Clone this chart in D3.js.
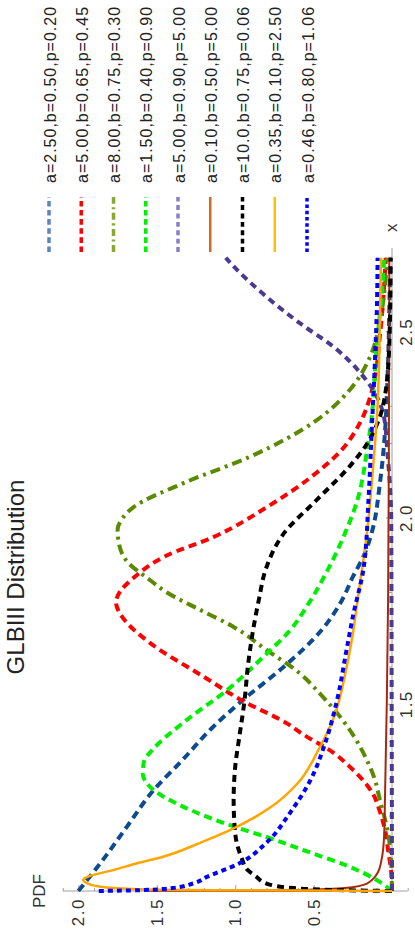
<!DOCTYPE html>
<html>
<head>
<meta charset="utf-8">
<script src="https://cdn.jsdelivr.net/npm/d3@7"></script>
<style>
  body { margin: 0; background: #fff; }
  svg { display: block; }
  text { font-family: "Liberation Sans", Arial, sans-serif; }
</style>
</head>
<body>
<svg id="chart" width="415" height="934"></svg>
<script>
// GLBIII density curves, sampled as [x, pdf] pairs
const curveA250 = [[1.0,2.0],[1.08,1.85],[1.173,1.69],[1.271,1.52],[1.35,1.34],[1.441,1.14],[1.513,0.95],[1.602,0.69],[1.70,0.45],[1.78,0.32],[1.843,0.25],[1.90,0.18],[1.961,0.13],[2.095,0.077],[2.23,0.045],[2.36,0.03],[2.5,0.02],[2.7,0.012]];
const curveA500a = [[1.0,0.0],[1.05,0.005],[1.11,0.025],[1.155,0.04],[1.217,0.08],[1.26,0.12],[1.29,0.17],[1.33,0.26],[1.37,0.37],[1.424,0.58],[1.45,0.67],[1.51,0.95],[1.575,1.2],[1.665,1.54],[1.73,1.71],[1.775,1.76],[1.80,1.74],[1.84,1.65],[1.90,1.44],[1.95,1.14],[2.03,0.80],[2.11,0.52],[2.18,0.33],[2.26,0.20],[2.34,0.13],[2.50,0.075],[2.7,0.04]];
const curveA800 = [[1.0,0.0],[1.08,0.005],[1.155,0.025],[1.244,0.077],[1.30,0.11],[1.36,0.17],[1.42,0.25],[1.467,0.33],[1.53,0.46],[1.585,0.59],[1.647,0.80],[1.709,1.01],[1.754,1.22],[1.80,1.43],[1.84,1.56],[1.88,1.68],[1.93,1.74],[1.97,1.75],[2.0,1.72],[2.03,1.65],[2.095,1.33],[2.165,0.91],[2.264,0.48],[2.345,0.27],[2.434,0.14],[2.52,0.08],[2.587,0.055],[2.7,0.03]];
const curveA150 = [[1.0,0.0],[1.01,0.03],[1.03,0.1],[1.048,0.18],[1.07,0.3],[1.10,0.5],[1.145,0.80],[1.172,1.0],[1.226,1.33],[1.271,1.52],[1.316,1.59],[1.35,1.58],[1.378,1.53],[1.459,1.31],[1.54,1.05],[1.629,0.82],[1.70,0.65],[1.773,0.53],[1.87,0.40],[1.96,0.30],[2.05,0.22],[2.18,0.16],[2.27,0.13],[2.45,0.10],[2.63,0.06],[2.7,0.05]];
const curveA500b = [[1.0,0.0],[1.5,0.002],[2.0,0.005],[2.1,0.015],[2.18,0.03],[2.27,0.05],[2.33,0.10],[2.39,0.20],[2.46,0.37],[2.525,0.59],[2.595,0.80],[2.686,1.03],[2.7,1.06]];
const curveA010 = [[1.0,0.0],[1.0008,1.55],[1.003,0.6],[1.008,0.3],[1.02,0.16],[1.05,0.09],[1.083,0.067],[1.15,0.05],[1.244,0.045],[1.51,0.033],[1.78,0.025],[2.2,0.02],[2.7,0.017]];
const curveA1000 = [[1.0,0.0],[1.002,0.3],[1.005,0.52],[1.008,0.63],[1.02,0.80],[1.04,0.87],[1.056,0.92],[1.09,0.96],[1.155,1.0],[1.244,1.01],[1.333,1.0],[1.424,0.97],[1.513,0.94],[1.60,0.92],[1.69,0.89],[1.78,0.85],[1.87,0.80],[1.96,0.69],[2.05,0.48],[2.14,0.27],[2.20,0.16],[2.27,0.08],[2.36,0.035],[2.5,0.015],[2.7,0.008]];
const curveA035 = [[1.0,0.0],[1.002,1.0],[1.005,1.62],[1.011,1.85],[1.02,1.94],[1.03,1.97],[1.04,1.93],[1.056,1.78],[1.075,1.62],[1.092,1.46],[1.13,1.22],[1.164,1.03],[1.226,0.77],[1.29,0.60],[1.378,0.47],[1.467,0.37],[1.60,0.29],[1.69,0.25],[1.78,0.22],[1.96,0.16],[2.14,0.12],[2.32,0.09],[2.59,0.075],[2.7,0.07]];
const curveA046 = [[1.0,1.87],[1.002,1.62],[1.008,1.40],[1.02,1.27],[1.038,1.18],[1.075,0.97],[1.13,0.80],[1.21,0.65],[1.298,0.52],[1.405,0.42],[1.513,0.35],[1.647,0.29],[1.736,0.25],[1.87,0.18],[2.05,0.15],[2.23,0.13],[2.41,0.11],[2.59,0.095],[2.7,0.092]];

const seriesData = [curveA250, curveA500a, curveA800, curveA150, curveA500b, curveA010, curveA1000, curveA035, curveA046];
const seriesLabels = ["a=2.50,b=0.50,p=0.20","a=5.00,b=0.65,p=0.45","a=8.00,b=0.75,p=0.30","a=1.50,b=0.40,p=0.90","a=5.00,b=0.90,p=5.00","a=0.10,b=0.50,p=5.00","a=10.0,b=0.75,p=0.06","a=0.35,b=0.10,p=2.50","a=0.46,b=0.80,p=1.06"];
const lineColors = ["#0d4a8f","#ff0000","#5a8a00","#00ee00","#4b3a8f","#a52a0a","#000000","#ffa500","#0000ff"];
const keyColors = ["#5b84c4","#ff0000","#8ba832","#00ee00","#8c7cc8","#d2691e","#000000","#ffc000","#0000ff"];
const dashPatterns = ["8,5","8,5","10,5,3,5","8,5","7,5",null,"7,5",null,"5,4"];
const lineWidths = [4,4,4,4,4,2,4,2.5,4];

const xMajor = [1.5, 2.0, 2.5];
const xMinor = [1.1,1.2,1.3,1.4,1.6,1.7,1.8,1.9,2.1,2.2,2.3,2.4,2.6,2.7];
const yMajor = [0.5, 1.0, 1.5, 2.0];
const yMinor = [-0.1,0.1,0.2,0.3,0.4,0.6,0.7,0.8,0.9,1.1,1.2,1.3,1.4,1.6,1.7,1.8,1.9,2.1];

const svg = d3.select("#chart");
// the whole plot is laid out landscape and turned a quarter turn
const g = svg.append("g").attr("transform", "translate(0,934) rotate(-90)");

const x = d3.scaleLinear().domain([1, 2.7]).range([43, 43 + 1.7 * 372.5]);
const y = d3.scaleLinear().domain([0, 2]).range([392, 78.4]);

const axisColor = "#a0a0a0";
const labelColor = "#333";

// axis lines
g.append("line").attr("x1", x(1)).attr("x2", 686).attr("y1", y(0)).attr("y2", y(0))
  .attr("stroke", axisColor).attr("stroke-width", 1);
g.append("line").attr("x1", x(1)).attr("x2", x(1)).attr("y1", y(-0.1)).attr("y2", y(2.1))
  .attr("stroke", axisColor).attr("stroke-width", 1);

function styleAxis(sel) {
  sel.select(".domain").remove();
  sel.selectAll(".tick line").attr("stroke", axisColor);
  sel.selectAll(".tick text").attr("fill", labelColor).style("font-size", "17px")
    .style("letter-spacing", "1.5px").style("font-family", "'Liberation Sans', Arial, sans-serif");
}

g.append("g").attr("transform", `translate(0,${y(0)})`)
  .call(d3.axisBottom(x).tickValues(xMajor).tickSizeInner(-6).tickSizeOuter(0).tickPadding(8).tickFormat(d3.format(".1f")))
  .call(styleAxis);
g.append("g").attr("transform", `translate(0,${y(0)})`)
  .call(d3.axisBottom(x).tickValues(xMinor).tickSizeInner(-3).tickSizeOuter(0).tickFormat(""))
  .call(styleAxis);
g.append("g").attr("transform", `translate(${x(1)},0)`)
  .call(d3.axisLeft(y).tickValues(yMajor).tickSizeInner(-6).tickSizeOuter(0).tickPadding(7).tickFormat(d3.format(".1f")))
  .call(styleAxis);
g.append("g").attr("transform", `translate(${x(1)},0)`)
  .call(d3.axisLeft(y).tickValues(yMinor).tickSizeInner(-3).tickSizeOuter(0).tickFormat(""))
  .call(styleAxis);

// axis titles
g.append("text").attr("x", x(1)).attr("y", 45).attr("text-anchor", "middle")
  .attr("fill", labelColor).style("font-size", "17px").text("PDF");
g.append("text").attr("x", 702).attr("y", 397)
  .attr("fill", labelColor).style("font-size", "17px").text("x");

// chart title
g.append("text").attr("x", 357).attr("y", 24).attr("text-anchor", "middle")
  .attr("fill", "#222").style("font-size", "24px").text("GLBIII Distribution");

// curves
const line = d3.line().x(d => x(d[0])).y(d => y(d[1])).curve(d3.curveMonotoneX);
g.append("g").selectAll("path").data(seriesData).join("path")
  .attr("d", line)
  .attr("fill", "none")
  .attr("stroke", (d, i) => lineColors[i])
  .attr("stroke-width", (d, i) => lineWidths[i])
  .attr("stroke-dasharray", (d, i) => dashPatterns[i])
  .attr("stroke-linejoin", "round");

// legend
const legendRow = d3.scaleLinear().domain([0, 8]).range([49, 307]);
const legend = g.append("g").selectAll("g").data(seriesLabels).join("g")
  .attr("transform", (d, i) => `translate(0,${legendRow(i)})`);
legend.append("line").attr("x1", 682).attr("x2", 737).attr("y1", 0).attr("y2", 0)
  .attr("stroke", (d, i) => keyColors[i])
  .attr("stroke-width", (d, i) => lineWidths[i] === 4 ? 3.5 : 2.5)
  .attr("stroke-dasharray", (d, i) => dashPatterns[i] ? dashPatterns[i].split(",").map(v => v * 0.7).join(",") : null);
legend.append("text").attr("x", 751).attr("y", 6.5)
  .attr("fill", "#222").style("font-size", "16px").style("letter-spacing", "1px")
  .text(d => d);
</script>
</body>
</html>
